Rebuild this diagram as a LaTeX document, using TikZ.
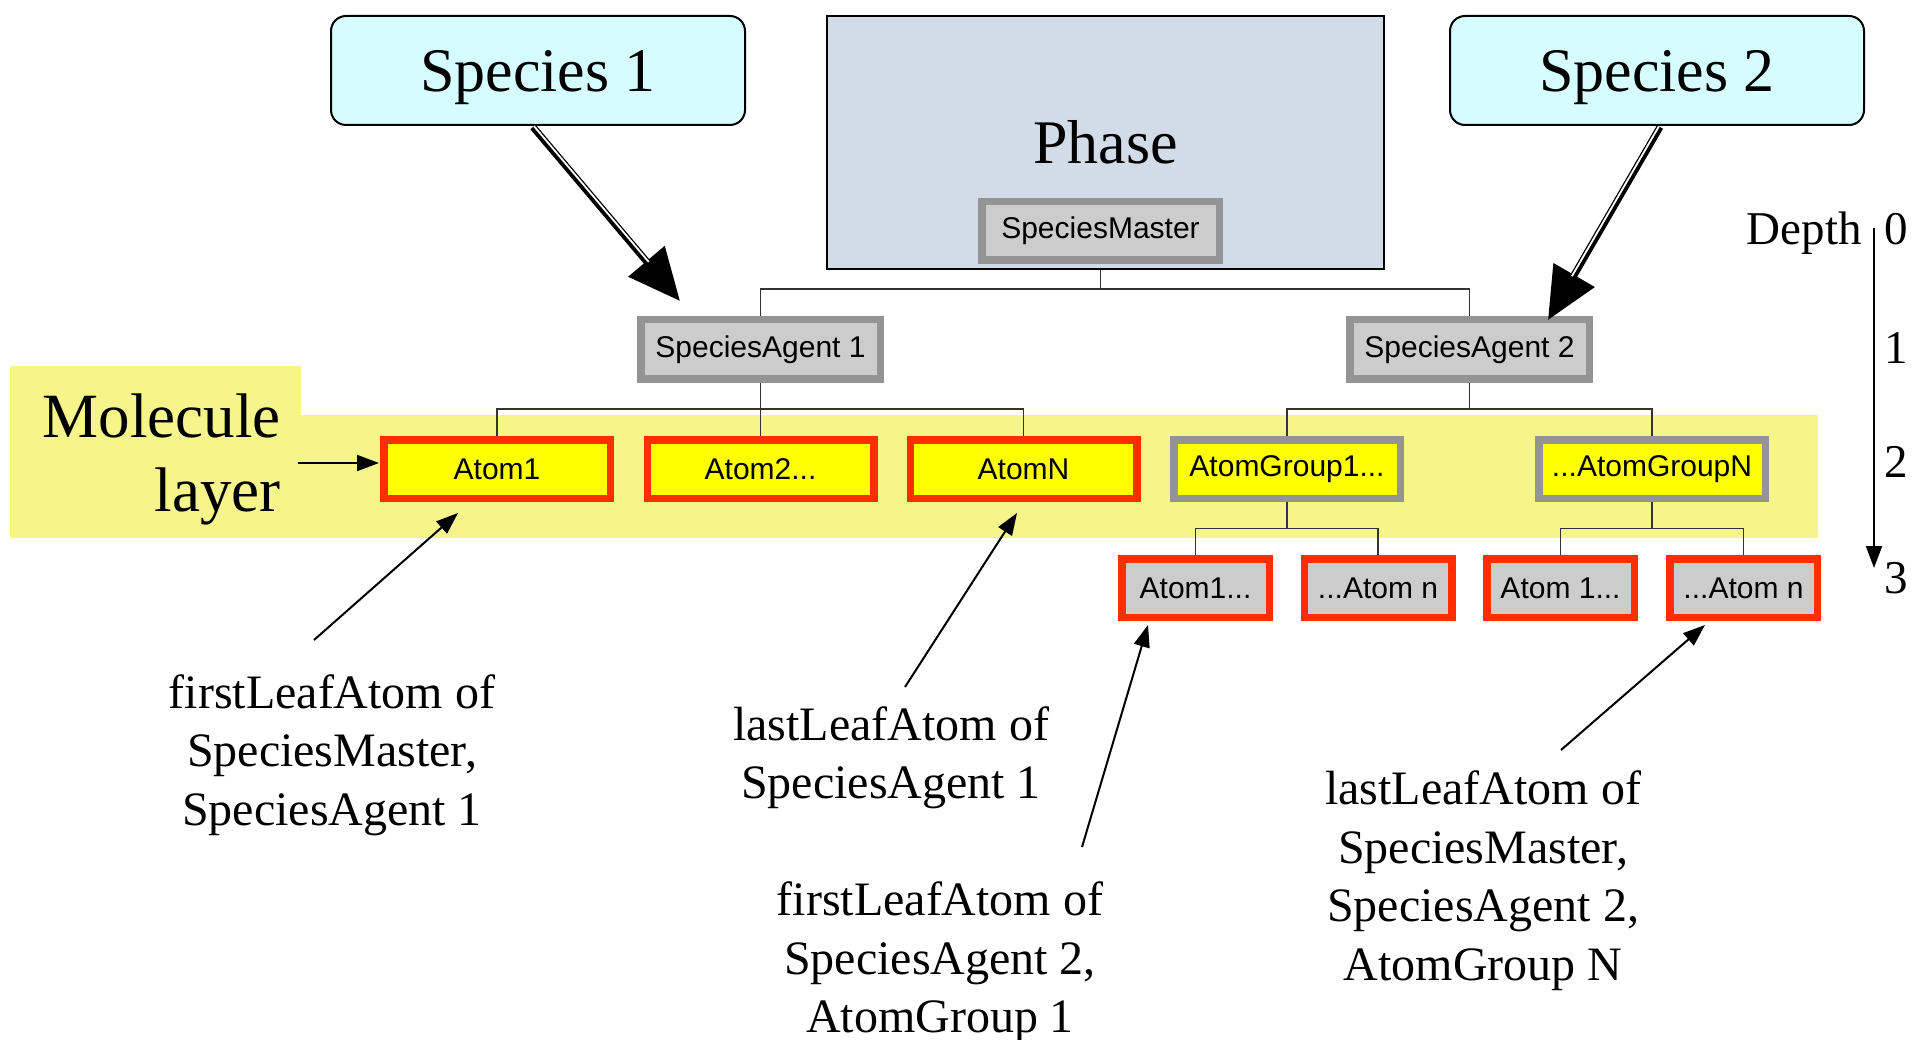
\documentclass[tikz,border=0pt]{standalone}
\usepackage{fontspec}
\setmainfont{Liberation Serif}
\setsansfont{Liberation Sans}
\usetikzlibrary{arrows.meta,calc}
\pgfdeclarelayer{background}
\pgfsetlayers{background,main}
\definecolor{cyanfill}{HTML}{D5FDFF}
\definecolor{phasefill}{HTML}{D2DBE8}
\definecolor{boxgray}{HTML}{CCCCCC}
\definecolor{graybd}{HTML}{949494}
\definecolor{redbd}{HTML}{FF2D00}
\definecolor{atomyellow}{HTML}{FFFF00}
\definecolor{layeryellow}{HTML}{F5F58C}
\definecolor{treeline}{HTML}{333333}
\begin{document}
\begin{tikzpicture}[x=1pt,y=-1pt,
  species/.style={draw=black, line width=2pt, fill=cyanfill, rounded corners=15pt,
    minimum width=414pt, minimum height=109pt, inner sep=0pt, text depth=0pt,
    font=\fontsize{62}{72}\selectfont},
  phasebox/.style={draw=black, line width=2pt, fill=phasefill, minimum width=557pt,
    minimum height=253pt, inner sep=0pt, font=\fontsize{62}{72}\selectfont},
  box/.style={line width=7.5pt, inner sep=0pt, minimum height=58.5pt,
    font=\sffamily\fontsize{30}{36}\selectfont},
  gbox/.style={box, draw=graybd, fill=boxgray},
  gybox/.style={box, draw=graybd, fill=atomyellow, minimum width=226.5pt},
  rybox/.style={box, draw=redbd, fill=atomyellow, minimum width=226.5pt},
  rgbox/.style={box, draw=redbd, fill=boxgray, minimum width=147.5pt},
  tree/.style={draw=treeline, line width=1.3pt},
  ann/.style={draw=black, line width=2pt, -{Triangle[length=22pt,width=16pt]}},
  bigarrow/.style={draw=black, line width=7pt, -{Triangle[length=52pt,width=46pt]}},
  stripe/.style={draw=white, line width=1.8pt, shorten >=50pt},
  anntext/.style={align=center, inner sep=0pt, anchor=base, font=\fontsize{48}{58.6}\selectfont},
  depthtext/.style={inner sep=0pt, font=\fontsize{47}{56}\selectfont}
]
\useasboundingbox (0,0) rectangle (1914,1040);

% top nodes
\node[species] (sp1) at (538,70.5) {Species 1};
\node[species] (sp2) at (1657,70.5) {Species 2};
\node[phasebox] (ph) at (1105.5,142.5) {Phase};
\node[gbox, minimum width=237.5pt] (sm) at (1100.5,231) {SpeciesMaster};

% depth 1
\node[gbox, minimum width=239.5pt, minimum height=59.5pt] (sa1) at (760.5,349.5) {SpeciesAgent 1};
\node[gbox, minimum width=239.5pt, minimum height=59.5pt] (sa2) at (1469.5,349.5) {SpeciesAgent 2};

% depth 2
\node[rybox] (a1) at (497,469) {Atom1};
\node[rybox] (a2) at (760.5,469) {Atom2...};
\node[rybox] (aN) at (1023.5,469) {AtomN};
\node[gybox] (g1) at (1287,469) {AtomGroup1...};
\node[gybox] (gN) at (1652,469) {...AtomGroupN};

% depth 3
\node[rgbox] (b1) at (1195.5,588) {Atom1...};
\node[rgbox] (b2) at (1378,588) {...Atom n};
\node[rgbox] (c1) at (1560.5,588) {Atom 1...};
\node[rgbox] (c2) at (1743.5,588) {...Atom n};

\begin{pgfonlayer}{background}
  \fill[layeryellow] (10,366) -- (301,366) -- (301,415) -- (1818,415) -- (1818,538) -- (10,538) -- cycle;
  \draw[tree] (sm.south) -- (sm.south |- 0,289);
  \draw[tree] (sa1.north) -- (sa1.north |- 0,289) -- (sa2.north |- 0,289) -- (sa2.north);
  \draw[tree] (sa1.south) -- (sa1.south |- 0,409);
  \draw[tree] (a1.north) -- (a1.north |- 0,409) -- (aN.north |- 0,409) -- (aN.north);
  \draw[tree] (a2.north) -- (a2.north |- 0,409);
  \draw[tree] (sa2.south) -- (sa2.south |- 0,409);
  \draw[tree] (g1.north) -- (g1.north |- 0,409) -- (gN.north |- 0,409) -- (gN.north);
  \draw[tree] (g1.south) -- (g1.south |- 0,528.5);
  \draw[tree] (b1.north) -- (b1.north |- 0,528.5) -- (b2.north |- 0,528.5) -- (b2.north);
  \draw[tree] (gN.south) -- (gN.south |- 0,528.5);
  \draw[tree] (c1.north) -- (c1.north |- 0,528.5) -- (c2.north |- 0,528.5) -- (c2.north);
\end{pgfonlayer}

% species arrows
\coordinate (s1a) at (533,127);
\coordinate (s1b) at (680,301);
\coordinate (s2a) at (1660,127);
\coordinate (s2b) at (1548,320);
\draw[bigarrow] (s1a) -- (s1b);
\draw[stripe] ($(s1a)+(1.0,-0.84)$) -- ($(s1b)+(1.0,-0.84)$);
\draw[bigarrow] (s2a) -- (s2b);
\draw[stripe] ($(s2a)+(-1.12,-0.65)$) -- ($(s2b)+(-1.12,-0.65)$);

% molecule layer
\node[align=right, anchor=base east, inner sep=0pt, font=\fontsize{63}{74}\selectfont] (ml) at (281,511) {Molecule\\layer};
\coordinate (mla) at (298,463);
\coordinate (mlb) at (379,463);
\draw[ann] (mla) -- (mlb);

% depth axis
\coordinate (dtop) at (1874,228);
\coordinate (dbot) at (1874,568);
\draw[ann] (dtop) -- (dbot);
\node[depthtext, anchor=base east] (dep) at (1862,245) {Depth};
\node[depthtext, anchor=base] (d0) at (1896,245) {0};
\node[depthtext, anchor=base] (d1) at (1896,364) {1};
\node[depthtext, anchor=base] (d2) at (1896,477) {2};
\node[depthtext, anchor=base] (d3) at (1896,593) {3};

% annotations (anchor = baseline of last line)
\node[anntext] (lA) at (332,825.2) {firstLeafAtom of\\SpeciesMaster,\\SpeciesAgent 1};
\node[anntext] (lB) at (891,798.6) {lastLeafAtom of\\SpeciesAgent 1};
\node[anntext] (lC) at (940,1032.7) {firstLeafAtom of\\SpeciesAgent 2,\\AtomGroup 1};
\node[anntext] (lD) at (1483,980.3) {lastLeafAtom of\\SpeciesMaster,\\SpeciesAgent 2,\\AtomGroup N};

\coordinate (tA) at (314,640); \coordinate (hA) at (458,513);
\coordinate (tB) at (905,687); \coordinate (hB) at (1017,513);
\coordinate (tC) at (1082,847); \coordinate (hC) at (1148,625);
\coordinate (tD) at (1561,750); \coordinate (hD) at (1705,625);
\draw[ann] (tA) -- (hA);
\draw[ann] (tB) -- (hB);
\draw[ann] (tC) -- (hC);
\draw[ann] (tD) -- (hD);
\end{tikzpicture}
\end{document}
